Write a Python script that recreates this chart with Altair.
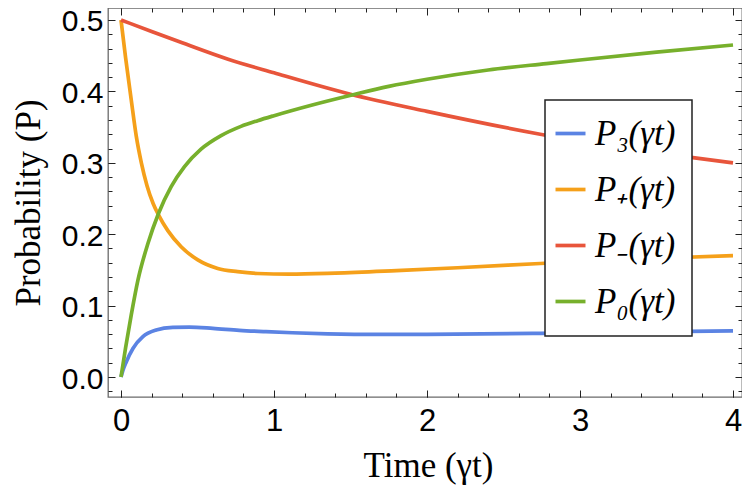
import altair as alt
import pandas as pd

# ---- data ----
SERIES = ["P₃(γt)", "P₊(γt)", "P₋(γt)", "P₀(γt)"]
LEGEND_LABELS = {s: s + "\u00a0\u2009" for s in SERIES}
COLORS = ["#5B83E3", "#F5A01A", "#E8553B", "#77B02C"]

T_P3 = [0, 0.012, 0.035, 0.078, 0.143, 0.23, 0.339, 0.447, 0.6, 0.773, 0.947, 1.12, 1.35,
        1.7, 2.0, 2.74, 3.3, 4.0]
P3 = [0, 0.009, 0.0215, 0.040, 0.0565, 0.0658, 0.0696, 0.0700, 0.0682, 0.0654, 0.0635,
      0.0620, 0.0605, 0.0597, 0.0598, 0.0612, 0.0628, 0.0645]

T_PPLUS = [0, 0.03, 0.067, 0.1, 0.133, 0.17, 0.21, 0.245, 0.306, 0.393, 0.502, 0.632, 0.762,
           0.893, 1.1, 1.4, 1.8, 2.2, 2.74, 3.2, 3.6, 4.0]
PPLUS = [0.500, 0.447, 0.388, 0.337, 0.300, 0.268, 0.243, 0.227, 0.205, 0.1825, 0.164, 0.152,
         0.1475, 0.145, 0.144, 0.1455, 0.149, 0.153, 0.159, 0.164, 0.167, 0.170]

T_PMINUS = [0, 0.2, 0.4, 0.7, 1.0, 1.5, 2.0, 2.74, 3.0, 3.5, 4.0]
PMINUS = [0.500, 0.484, 0.468, 0.445, 0.426, 0.396, 0.372, 0.340, 0.330, 0.314, 0.300]

T_P0 = [0, 0.03, 0.067, 0.111, 0.176, 0.245, 0.328, 0.415, 0.523, 0.654, 0.784, 0.893, 1.0,
        1.25, 1.51, 1.75, 2.0, 2.4, 2.78, 3.0, 3.5, 4.0]
P0 = [0, 0.041, 0.087, 0.136, 0.187, 0.229, 0.2666, 0.2946, 0.319, 0.338, 0.351, 0.359,
      0.366, 0.381, 0.395, 0.407, 0.417, 0.430, 0.439, 0.444, 0.455, 0.465]

X_MAJOR = [0, 1, 2, 3, 4]
Y_MAJOR = [0.0, 0.1, 0.2, 0.3, 0.4, 0.5]
X_MINOR = [0, 0.2, 0.4, 0.6, 0.8, 1, 1.2, 1.4, 1.6, 1.8, 2, 2.2, 2.4, 2.6, 2.8, 3,
           3.2, 3.4, 3.6, 3.8, 4]
Y_MINOR = [-0.02, 0, 0.02, 0.04, 0.06, 0.08, 0.1, 0.12, 0.14, 0.16, 0.18, 0.2, 0.22, 0.24,
           0.26, 0.28, 0.3, 0.32, 0.34, 0.36, 0.38, 0.4, 0.42, 0.44, 0.46, 0.48, 0.5]
X_DOMAIN = [-0.085, 4.0588]
Y_DOMAIN = [-0.028, 0.5168]

rows = []
for name, ts, ps in zip(SERIES, [T_P3, T_PPLUS, T_PMINUS, T_P0], [P3, PPLUS, PMINUS, P0]):
    for t, p in zip(ts, ps):
        rows.append({"series": LEGEND_LABELS[name], "t": t, "p": p})
df = pd.DataFrame(rows)

TICK_COLOR = "#222222"

x_scale = alt.Scale(domain=X_DOMAIN, nice=False, zero=False)
y_scale = alt.Scale(domain=Y_DOMAIN, nice=False, zero=False)

x_bottom = alt.Axis(
    orient="bottom", values=X_MAJOR, format="d", grid=False, domain=False, ticks=False,
    labelFont="Liberation Sans", labelFontSize=31, labelColor="black",
    labelPadding=9, labelOverlap=False, labelFlush=False,
    title="Time (γt)", titleFont="Liberation Serif", titleFontSize=35,
    titleFontWeight="normal", titleColor="black", titleBaseline="alphabetic",
    titleX=320, titleY=79,
)
y_left = alt.Axis(
    orient="left", values=Y_MAJOR, format=".1f", grid=False, domain=False, ticks=False,
    labelFont="Liberation Sans", labelFontSize=30, labelColor="black",
    labelPadding=5, labelOverlap=False, labelFlush=False, labelOffset=2,
    title="Probability (P)", titleFont="Liberation Serif", titleFontSize=35,
    titleFontWeight="normal", titleColor="black", titleBaseline="alphabetic", titleX=-69,
)

legend = alt.Legend(
    orient="none", legendX=437, legendY=92, title=None,
    symbolType="stroke", symbolSize=900, symbolStrokeWidth=3.7,
    symbolOffset={"expr": "-8"},
    labelFont="Liberation Serif", labelFontStyle="italic", labelFontSize=35,
    labelColor="black", labelLimit=400, labelOffset=7, rowPadding=20, padding=16,
    strokeColor="#222222", fillColor="white",
)

lines = alt.Chart(df).mark_line(strokeWidth=3.7, interpolate="monotone").encode(
    x=alt.X("t:Q", scale=x_scale, axis=x_bottom),
    y=alt.Y("p:Q", scale=y_scale, axis=y_left),
    color=alt.Color(
        "series:N",
        scale=alt.Scale(domain=[LEGEND_LABELS[s] for s in SERIES], range=COLORS),
        legend=legend,
    ),
)


def tick_layer(x_orient, y_orient, x_vals, y_vals, size):
    def ax(orient, vals):
        return alt.Axis(
            orient=orient, values=vals, labels=False, title=None, grid=False, domain=False,
            ticks=True, tickSize={"expr": str(-size)}, tickColor=TICK_COLOR, tickWidth=1,
        )
    return alt.Chart(df).mark_line(strokeOpacity=0).encode(
        x=alt.X("t:Q", scale=x_scale, axis=ax(x_orient, x_vals)),
        y=alt.Y("p:Q", scale=y_scale, axis=ax(y_orient, y_vals)),
        detail="series:N",
    )


layers = [
    lines,
    tick_layer("bottom", "left", X_MAJOR, Y_MAJOR, 7),
    tick_layer("top", "right", X_MAJOR, Y_MAJOR, 7),
    tick_layer("bottom", "left", X_MINOR, Y_MINOR, 4),
    tick_layer("top", "right", X_MINOR, Y_MINOR, 4),
]

chart = (
    alt.layer(*layers)
    .resolve_scale(x="independent", y="independent")
    .properties(
        width=634, height=389,
        autosize=alt.AutoSizeParams(type="none"),
        padding={"left": 100, "top": 0, "right": 0, "bottom": 90},
    )
    .configure_view(stroke="#6b6b6b", strokeWidth=1.3)
    .configure_legend(strokeWidth=1.5)
)

chart.save("out.html", embed_options={"renderer": "svg", "actions": False})
